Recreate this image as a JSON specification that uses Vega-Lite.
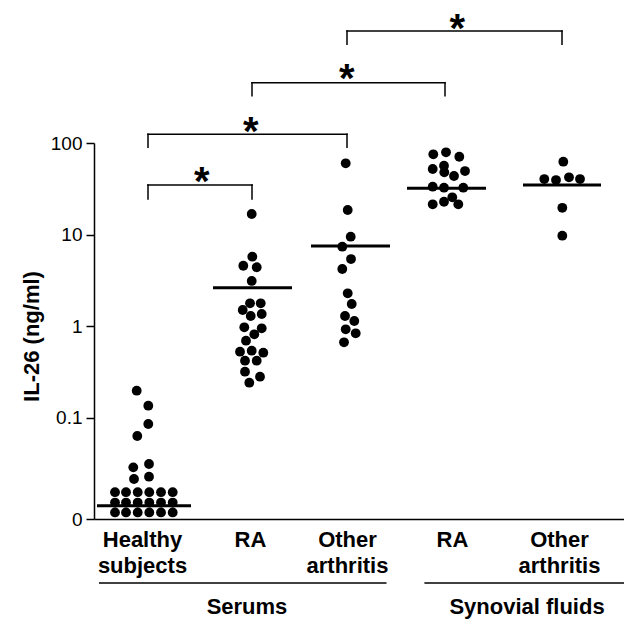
{
  "$schema": "https://vega.github.io/schema/vega-lite/v6.json",
  "width": 530,
  "height": 376,
  "autosize": {"type": "none"},
  "padding": {"left": 94, "top": 143, "right": 0, "bottom": 101},
  "background": "white",
  "config": {"view": {"stroke": null}, "font": "Liberation Sans"},
  "datasets": {
    "dots": [
      {"group": "Healthy subjects", "x": 0.897, "y": 0.1967},
      {"group": "Healthy subjects", "x": 1.013, "y": 0.1349},
      {"group": "Healthy subjects", "x": 1.013, "y": 0.0851},
      {"group": "Healthy subjects", "x": 0.903, "y": 0.0629},
      {"group": "Healthy subjects", "x": 0.863, "y": 0.0286},
      {"group": "Healthy subjects", "x": 1.02, "y": 0.0311},
      {"group": "Healthy subjects", "x": 0.87, "y": 0.02134},
      {"group": "Healthy subjects", "x": 1.02, "y": 0.02261},
      {"group": "Healthy subjects", "x": 0.68, "y": 0.0153},
      {"group": "Healthy subjects", "x": 0.79, "y": 0.0153},
      {"group": "Healthy subjects", "x": 0.907, "y": 0.0153},
      {"group": "Healthy subjects", "x": 1.023, "y": 0.0153},
      {"group": "Healthy subjects", "x": 1.14, "y": 0.0153},
      {"group": "Healthy subjects", "x": 1.257, "y": 0.0153},
      {"group": "Healthy subjects", "x": 0.68, "y": 0.0118},
      {"group": "Healthy subjects", "x": 0.79, "y": 0.0118},
      {"group": "Healthy subjects", "x": 0.907, "y": 0.0118},
      {"group": "Healthy subjects", "x": 1.023, "y": 0.0118},
      {"group": "Healthy subjects", "x": 1.14, "y": 0.0118},
      {"group": "Healthy subjects", "x": 1.257, "y": 0.0118},
      {"group": "Healthy subjects", "x": 0.68, "y": 0.0092},
      {"group": "Healthy subjects", "x": 0.79, "y": 0.0092},
      {"group": "Healthy subjects", "x": 0.907, "y": 0.0092},
      {"group": "Healthy subjects", "x": 1.023, "y": 0.0092},
      {"group": "Healthy subjects", "x": 1.14, "y": 0.0092},
      {"group": "Healthy subjects", "x": 1.257, "y": 0.0092},
      {"group": "Serum RA", "x": 2.047, "y": 16.76},
      {"group": "Serum RA", "x": 2.053, "y": 5.73},
      {"group": "Serum RA", "x": 1.963, "y": 4.56},
      {"group": "Serum RA", "x": 2.097, "y": 4.39},
      {"group": "Serum RA", "x": 2.047, "y": 3.11},
      {"group": "Serum RA", "x": 1.957, "y": 1.498},
      {"group": "Serum RA", "x": 2.03, "y": 1.773},
      {"group": "Serum RA", "x": 2.137, "y": 1.773},
      {"group": "Serum RA", "x": 2.037, "y": 1.288},
      {"group": "Serum RA", "x": 2.147, "y": 1.354},
      {"group": "Serum RA", "x": 1.973, "y": 0.969},
      {"group": "Serum RA", "x": 2.147, "y": 0.945},
      {"group": "Serum RA", "x": 2.073, "y": 0.813},
      {"group": "Serum RA", "x": 1.99, "y": 0.692},
      {"group": "Serum RA", "x": 1.93, "y": 0.5246},
      {"group": "Serum RA", "x": 2.047, "y": 0.538},
      {"group": "Serum RA", "x": 2.163, "y": 0.5116},
      {"group": "Serum RA", "x": 1.98, "y": 0.4183},
      {"group": "Serum RA", "x": 2.097, "y": 0.4183},
      {"group": "Serum RA", "x": 1.98, "y": 0.3172},
      {"group": "Serum RA", "x": 2.13, "y": 0.2797},
      {"group": "Serum RA", "x": 2.023, "y": 0.2405},
      {"group": "Serum other arthritis", "x": 2.987, "y": 60.0},
      {"group": "Serum other arthritis", "x": 3.007, "y": 18.54},
      {"group": "Serum other arthritis", "x": 3.037, "y": 9.47},
      {"group": "Serum other arthritis", "x": 2.953, "y": 7.36},
      {"group": "Serum other arthritis", "x": 3.04, "y": 5.4},
      {"group": "Serum other arthritis", "x": 2.953, "y": 4.2},
      {"group": "Serum other arthritis", "x": 3.007, "y": 2.28},
      {"group": "Serum other arthritis", "x": 3.047, "y": 1.742},
      {"group": "Serum other arthritis", "x": 2.98, "y": 1.288},
      {"group": "Serum other arthritis", "x": 3.073, "y": 1.136},
      {"group": "Serum other arthritis", "x": 2.987, "y": 0.922},
      {"group": "Serum other arthritis", "x": 3.087, "y": 0.834},
      {"group": "Serum other arthritis", "x": 2.97, "y": 0.665},
      {"group": "Synovial RA", "x": 3.863, "y": 75.2},
      {"group": "Synovial RA", "x": 3.99, "y": 79.1},
      {"group": "Synovial RA", "x": 4.123, "y": 70.8},
      {"group": "Synovial RA", "x": 3.857, "y": 52.0},
      {"group": "Synovial RA", "x": 3.97, "y": 56.5},
      {"group": "Synovial RA", "x": 3.973, "y": 47.9},
      {"group": "Synovial RA", "x": 4.07, "y": 43.6},
      {"group": "Synovial RA", "x": 4.18, "y": 49.4},
      {"group": "Synovial RA", "x": 3.857, "y": 33.3},
      {"group": "Synovial RA", "x": 3.97, "y": 32.5},
      {"group": "Synovial RA", "x": 4.163, "y": 32.5},
      {"group": "Synovial RA", "x": 3.857, "y": 21.4},
      {"group": "Synovial RA", "x": 3.97, "y": 22.8},
      {"group": "Synovial RA", "x": 4.053, "y": 25.5},
      {"group": "Synovial RA", "x": 4.113, "y": 21.4},
      {"group": "Synovial other arthritis", "x": 5.163, "y": 62.5},
      {"group": "Synovial other arthritis", "x": 4.973, "y": 40.4},
      {"group": "Synovial other arthritis", "x": 5.09, "y": 39.4},
      {"group": "Synovial other arthritis", "x": 5.22, "y": 42.2},
      {"group": "Synovial other arthritis", "x": 5.33, "y": 40.4},
      {"group": "Synovial other arthritis", "x": 5.153, "y": 19.6},
      {"group": "Synovial other arthritis", "x": 5.153, "y": 9.71}
    ],
    "medians": [
      {"group": "Healthy subjects", "x": 0.5, "x2": 1.44, "y": 0.0109},
      {"group": "Serum RA", "x": 1.66, "x2": 2.45, "y": 2.625},
      {"group": "Serum other arthritis", "x": 2.64, "x2": 3.43, "y": 7.49},
      {"group": "Synovial RA", "x": 3.6, "x2": 4.39, "y": 32.0},
      {"group": "Synovial other arthritis", "x": 4.76, "x2": 5.54, "y": 34.8}
    ],
    "brackets": [
      {"x": 1.01, "x2": 2.05, "y": 34.8, "yb": 24.4, "sx": 1.547, "sy": 26.7, "label": "*"},
      {"x": 1.01, "x2": 3.0, "y": 124.5, "yb": 89.7, "sx": 2.037, "sy": 95.8, "label": "*"},
      {"x": 2.05, "x2": 3.98, "y": 456, "yb": 329, "sx": 2.997, "sy": 363.6, "label": "*"},
      {"x": 3.0, "x2": 5.15, "y": 1673, "yb": 1197, "sx": 4.103, "sy": 1278, "label": "*"}
    ],
    "groups": [
      {"label": "Serums", "x": 0.52, "x2": 3.395, "tx": 2.0, "y": 0.00156, "ty": 0.000706},
      {"label": "Synovial fluids", "x": 3.774, "x2": 5.77, "tx": 4.8, "y": 0.00156, "ty": 0.000706}
    ]
  },
  "layer": [
    {
      "data": {"name": "dots"},
      "mark": {"type": "point", "filled": true, "shape": "circle", "size": 96, "color": "black", "opacity": 1, "strokeWidth": 0},
      "encoding": {
        "x": {
          "field": "x", "type": "quantitative",
          "scale": {"domain": [0.47, 5.77], "nice": false, "zero": false},
          "axis": {
            "title": null, "values": [0.95, 2.03, 3.0, 4.05, 5.12], "ticks": false, "tickSize": 0, "grid": false,
            "domainColor": "black", "domainWidth": 1.5,
            "labelFont": "Liberation Sans", "labelFontSize": 22, "labelFontWeight": "bold", "labelColor": "black",
            "labelBaseline": "alphabetic", "labelPadding": 27, "labelLineHeight": 26.5,
            "labelOverlap": false, "labelFlush": false, "labelBound": false,
            "labelExpr": "datum.value < 1.5 ? ['Healthy','subjects'] : datum.value < 2.5 ? 'RA' : datum.value < 3.5 ? ['Other','arthritis'] : datum.value < 4.5 ? 'RA' : ['Other','arthritis']"
          }
        },
        "y": {
          "field": "y", "type": "quantitative",
          "scale": {"type": "log", "domain": [0.0078, 100], "nice": false},
          "axis": {
            "title": "IL-26 (ng/ml)", "values": [0.0078, 0.1, 1, 10, 100], "grid": false,
            "labelExpr": "datum.value < 0.05 ? '0' : datum.value < 0.5 ? '0.1' : format(datum.value, 'd')",
            "tickSize": 8, "tickColor": "black", "tickWidth": 1.5,
            "domainColor": "black", "domainWidth": 1.5,
            "labelFont": "Liberation Sans", "labelFontSize": 19, "labelColor": "black", "labelPadding": 4,
            "labelOverlap": false, "labelFlush": false,
            "titleFont": "Liberation Sans", "titleFontSize": 22, "titleFontWeight": "bold", "titleColor": "black",
            "titleAngle": -90, "titleX": -55.7, "titleY": 193, "titleBaseline": "alphabetic", "titleAlign": "center"
          }
        }
      }
    },
    {
      "data": {"name": "medians"},
      "mark": {"type": "rule", "color": "black", "strokeWidth": 3},
      "encoding": {
        "x": {"field": "x", "type": "quantitative"},
        "x2": {"field": "x2"},
        "y": {"field": "y", "type": "quantitative"}
      }
    },
    {
      "data": {"name": "brackets"},
      "mark": {"type": "rule", "color": "black", "strokeWidth": 1.5, "strokeCap": "square"},
      "encoding": {
        "x": {"field": "x", "type": "quantitative"},
        "x2": {"field": "x2"},
        "y": {"field": "y", "type": "quantitative"}
      }
    },
    {
      "data": {"name": "brackets"},
      "mark": {"type": "rule", "color": "black", "strokeWidth": 1.5, "strokeCap": "square"},
      "encoding": {
        "x": {"field": "x", "type": "quantitative"},
        "y": {"field": "y", "type": "quantitative"},
        "y2": {"field": "yb"}
      }
    },
    {
      "data": {"name": "brackets"},
      "mark": {"type": "rule", "color": "black", "strokeWidth": 1.5, "strokeCap": "square"},
      "encoding": {
        "x": {"field": "x2", "type": "quantitative"},
        "y": {"field": "y", "type": "quantitative"},
        "y2": {"field": "yb"}
      }
    },
    {
      "data": {"name": "brackets"},
      "mark": {"type": "text", "color": "black", "fontSize": 40, "fontWeight": "bold", "font": "Liberation Sans", "align": "center", "baseline": "alphabetic"},
      "encoding": {
        "x": {"field": "sx", "type": "quantitative"},
        "y": {"field": "sy", "type": "quantitative"},
        "text": {"field": "label"}
      }
    },
    {
      "data": {"name": "groups"},
      "mark": {"type": "rule", "color": "black", "strokeWidth": 1.5},
      "encoding": {
        "x": {"field": "x", "type": "quantitative"},
        "x2": {"field": "x2"},
        "y": {"field": "y", "type": "quantitative"}
      }
    },
    {
      "data": {"name": "groups"},
      "mark": {"type": "text", "color": "black", "fontSize": 22, "fontWeight": "bold", "font": "Liberation Sans", "align": "center", "baseline": "alphabetic"},
      "encoding": {
        "x": {"field": "tx", "type": "quantitative"},
        "y": {"field": "ty", "type": "quantitative"},
        "text": {"field": "label"}
      }
    },
    {
      "mark": {"type": "rule", "color": "black", "strokeWidth": 1.5},
      "encoding": {
        "x": {"datum": 0.47, "type": "quantitative"},
        "y": {"datum": 0.0078, "type": "quantitative"},
        "y2": {"datum": 0.0062}
      }
    }
  ]
}
